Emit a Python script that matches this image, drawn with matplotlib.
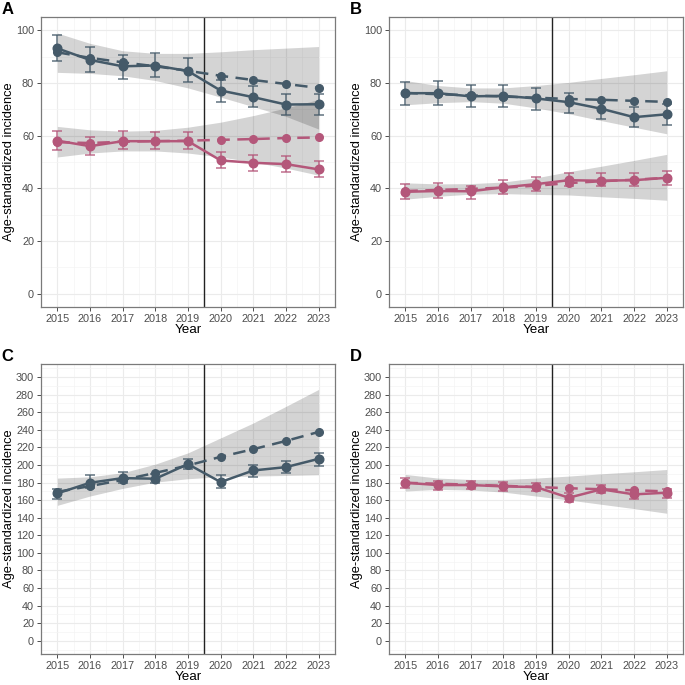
import numpy as np
import matplotlib
matplotlib.use('Agg')
import matplotlib.pyplot as plt
from matplotlib.ticker import MultipleLocator

plt.rcParams['font.family'] = ['Liberation Sans', 'DejaVu Sans']

years = [2015, 2016, 2017, 2018, 2019, 2020, 2021, 2022, 2023]
dark = '#455a69'
pink = '#b4577a'

# Panel A
a_dark_obs = [93.1, 88.7, 86.3, 86.6, 84.5, 77.1, 74.6, 71.8, 71.9]
a_dark_lo = [88.4, 84.0, 81.4, 82.2, 80.5, 72.9, 70.7, 67.9, 67.9]
a_dark_hi = [98.2, 93.6, 90.6, 91.3, 89.4, 81.2, 78.7, 75.7, 75.7]
a_dark_exp = [91.6, 89.5, 87.8, 86.3, 84.6, 82.7, 81.1, 79.6, 78.1]
a_dark_rib_lo = [84.0, 83.6, 82.7, 80.9, 78.1, 74.6, 71.0, 67.3, 62.5]
a_dark_rib_hi = [98.9, 95.0, 92.2, 91.2, 91.2, 91.8, 92.6, 93.2, 93.8]
a_pink_obs = [58.1, 56.0, 57.9, 57.9, 57.9, 50.6, 49.7, 49.2, 47.2]
a_pink_lo = [54.7, 52.8, 54.8, 54.8, 54.8, 47.7, 46.7, 46.1, 44.3]
a_pink_hi = [61.7, 59.3, 61.6, 61.3, 61.3, 53.8, 52.8, 52.3, 50.3]
a_pink_exp = [57.5, 57.2, 57.7, 57.9, 58.1, 58.4, 58.7, 59.1, 59.3]
a_pink_rib_lo = [51.9, 53.4, 54.2, 54.2, 53.4, 51.9, 50.0, 47.7, 45.0]
a_pink_rib_hi = [63.5, 62.2, 61.7, 62.0, 63.2, 65.1, 67.6, 70.5, 73.7]

# Panel B
b_dark_obs = [76.1, 76.1, 74.9, 75.1, 74.1, 72.7, 70.2, 67.0, 68.1]
b_dark_lo = [71.7, 71.8, 70.9, 71.0, 69.9, 68.4, 66.2, 63.1, 64.2]
b_dark_hi = [80.4, 80.6, 79.1, 79.3, 78.1, 76.3, 73.7, 70.8, 71.9]
b_dark_exp = [76.2, 75.7, 75.3, 74.8, 74.4, 73.9, 73.6, 73.2, 72.8]
b_dark_rib_lo = [71.7, 72.5, 72.9, 72.3, 70.5, 68.3, 65.7, 63.2, 60.7]
b_dark_rib_hi = [80.9, 79.0, 78.1, 78.1, 79.0, 80.2, 81.7, 83.1, 84.6]
b_pink_obs = [38.7, 39.0, 38.9, 40.4, 41.6, 43.1, 42.9, 43.1, 44.0]
b_pink_lo = [35.9, 36.5, 35.8, 37.8, 39.0, 40.8, 40.8, 40.8, 41.1]
b_pink_hi = [41.8, 42.1, 40.9, 43.1, 44.3, 45.8, 45.8, 45.8, 46.5]
b_pink_exp = [39.0, 39.4, 39.8, 40.3, 41.0, 42.0, 42.7, 43.3, 44.0]
b_pink_rib_lo = [35.9, 37.0, 37.8, 38.0, 37.7, 37.5, 36.8, 36.2, 35.5]
b_pink_rib_hi = [42.1, 41.7, 41.8, 42.4, 44.0, 46.3, 48.4, 50.6, 52.9]

# Panel C
c_obs = [167.7, 179.8, 185.1, 184.4, 201.0, 180.6, 193.8, 197.6, 207.0]
c_lo = [161.5, 173.4, 179.1, 179.1, 194.9, 174.2, 186.6, 191.2, 198.7]
c_hi = [172.3, 188.1, 191.9, 190.0, 207.4, 188.1, 199.8, 205.1, 213.8]
c_exp = [169.5, 176.0, 183.0, 191.0, 199.5, 209.3, 218.0, 227.4, 237.6]
c_rib_lo = [154.1, 164.7, 173.4, 180.5, 184.4, 186.6, 187.4, 188.1, 188.9]
c_rib_hi = [185.1, 186.6, 191.2, 201.0, 213.8, 230.8, 247.8, 266.7, 286.0]

# Panel D
d_obs = [179.8, 177.2, 177.2, 175.7, 174.9, 162.8, 172.3, 166.6, 168.5]
d_lo = [174.2, 171.5, 172.3, 170.4, 170.4, 157.9, 167.7, 161.7, 162.8]
d_hi = [185.5, 181.7, 181.7, 180.6, 179.8, 167.7, 177.2, 171.5, 173.0]
d_exp = [179.8, 178.7, 177.6, 176.4, 174.9, 173.6, 172.4, 171.2, 170.0]
d_rib_lo = [170.4, 172.3, 171.5, 169.2, 164.7, 160.2, 155.3, 150.4, 145.1]
d_rib_hi = [189.3, 185.1, 183.6, 183.6, 185.1, 187.4, 190.0, 192.3, 194.9]


def draw_series(ax, obs, lo, hi, exp, rlo, rhi, col):
    ax.fill_between(years, rlo, rhi, color='black', alpha=0.17, lw=0, zorder=1)
    ax.plot(years, exp, color=col, lw=1.8, ls=(0, (5, 3)), marker='o', ms=5.5, zorder=3)
    ax.plot(years, obs, color=col, lw=1.8, marker='o', ms=6.2, zorder=4)
    yerr = [np.array(obs) - np.array(lo), np.array(hi) - np.array(obs)]
    ax.errorbar(years, obs, yerr=yerr, fmt='none', ecolor=col, elinewidth=1.1,
                capsize=3.8, capthick=1.1, alpha=0.85, zorder=5)


def style(ax, ymax, ystep, label):
    ax.set_xlim(2014.5, 2023.5)
    ax.set_ylim(-0.05 * ymax, 1.05 * ymax)
    ax.set_xticks(years)
    ax.yaxis.set_major_locator(MultipleLocator(ystep))
    ax.yaxis.set_minor_locator(MultipleLocator(ystep / 2))
    ax.xaxis.set_minor_locator(MultipleLocator(0.5))
    ax.grid(which='major', color='#ebebeb', lw=0.8, zorder=0)
    ax.grid(which='minor', color='#f4f4f4', lw=0.5, zorder=0)
    ax.set_axisbelow(True)
    ax.tick_params(which='major', labelsize=7.8, colors='#4d4d4d', length=3, width=0.7, pad=2)
    ax.tick_params(which='minor', length=0)
    for s in ax.spines.values():
        s.set_color('#7a7a7a')
        s.set_linewidth(0.9)
    ax.axvline(2019.5, color='#222222', lw=1.0, zorder=2)
    ax.set_xlabel('Year', fontsize=9.6, labelpad=0)
    ax.set_ylabel('Age-standardized incidence', fontsize=9.3)
    ax.yaxis.set_label_coords(-0.088, 0.5)
    ax.text(-0.134, 1.0, label, transform=ax.transAxes,
            fontsize=12, fontweight='bold', va='bottom', ha='left')


fig = plt.figure(figsize=(6.85, 6.85), dpi=100)
axA = fig.add_axes([0.0599, 0.5518, 0.429, 0.4234])
axB = fig.add_axes([0.5679, 0.5518, 0.4292, 0.4234])
axC = fig.add_axes([0.0599, 0.0453, 0.429, 0.4234])
axD = fig.add_axes([0.5679, 0.0453, 0.4292, 0.4234])

draw_series(axA, a_dark_obs, a_dark_lo, a_dark_hi, a_dark_exp, a_dark_rib_lo, a_dark_rib_hi, dark)
draw_series(axA, a_pink_obs, a_pink_lo, a_pink_hi, a_pink_exp, a_pink_rib_lo, a_pink_rib_hi, pink)
style(axA, 100, 20, 'A')

draw_series(axB, b_dark_obs, b_dark_lo, b_dark_hi, b_dark_exp, b_dark_rib_lo, b_dark_rib_hi, dark)
draw_series(axB, b_pink_obs, b_pink_lo, b_pink_hi, b_pink_exp, b_pink_rib_lo, b_pink_rib_hi, pink)
style(axB, 100, 20, 'B')

draw_series(axC, c_obs, c_lo, c_hi, c_exp, c_rib_lo, c_rib_hi, dark)
style(axC, 300, 20, 'C')

draw_series(axD, d_obs, d_lo, d_hi, d_exp, d_rib_lo, d_rib_hi, pink)
style(axD, 300, 20, 'D')

fig.savefig('out.png', dpi=100)
